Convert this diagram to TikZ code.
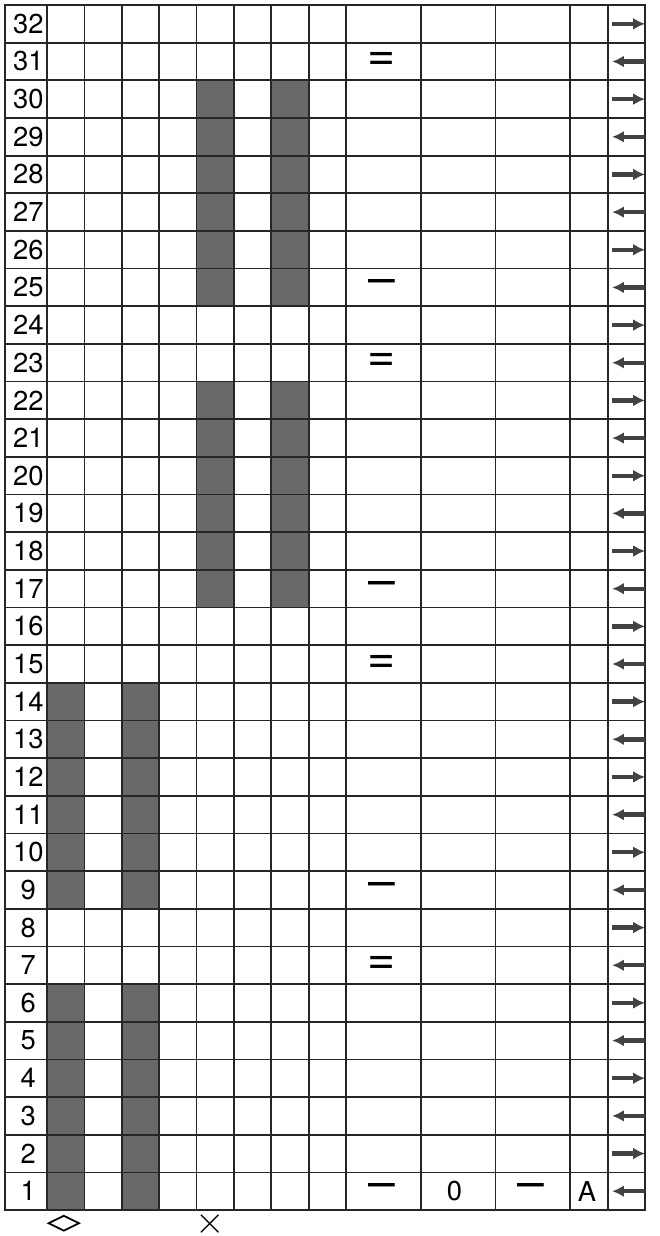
\documentclass[tikz,border=0pt]{standalone}
\usepackage{fontspec}
\setmainfont{TeX Gyre Heros}
\usetikzlibrary{arrows.meta, shapes.geometric}

\definecolor{bargray}{HTML}{696969}
\definecolor{arrowgray}{HTML}{424242}

\begin{document}
\begin{tikzpicture}[
    x=0.6cm, y=-0.6045cm,
    gridline/.style={line width=0.8pt, black!85},
    shaded/.style={fill=bargray},
    rownum/.style={font=\fontsize{12.5}{14}\selectfont, inner sep=0pt},
    symbol/.style={font=\fontsize{22}{24}\selectfont, inner sep=0pt},
    rowarrow/.style={-{Latex[length=1.9mm, width=1.9mm]}, line width=2pt, arrowgray}
]
\useasboundingbox (-1.2575,-0.1328) rectangle (16.375,32.69);

\foreach \c in {0,2} {
    \fill[shaded] (\c,26) rectangle ++(1,6);
    \fill[shaded] (\c,18) rectangle ++(1,6);
}
\foreach \c in {4,6} {
    \fill[shaded] (\c,10) rectangle ++(1,6);
    \fill[shaded] (\c,2) rectangle ++(1,6);
}

\foreach \y in {0,...,32}
    \draw[gridline] (-1.124,\y) -- (16,\y);
\foreach \x in {0,...,8,10,12,14,15,16}
    \draw[gridline] (\x,0) -- (\x,32);
\draw[gridline] (-1.124,0) rectangle (16,32);

\foreach \r in {1,...,32} {
    \pgfmathsetmacro{\yc}{32.5-\r}
    \node[rownum] (n\r) at (-0.5,\yc) {\r};
    \coordinate (al\r) at (15.12,\yc);
    \coordinate (ar\r) at (16,\yc);
    \ifodd\r
        \draw[rowarrow] (ar\r) -- (al\r);
    \else
        \draw[rowarrow] (al\r) -- (ar\r);
    \fi
}

\foreach \r in {31,23,15,7}
    \node[symbol] (eq\r) at (8.95,{32.5-\r}) {=};
\foreach \r in {25,17,9,1}
    \node[symbol] (dash\r) at (8.95,{32.5-\r}) {–};

\node[rownum] (zero) at (10.9,31.5) {0};
\node[symbol] (dashb) at (12.95,31.5) {–};
\node[rownum] (letA) at (14.45,31.5) {A};

\node[diamond, draw, aspect=2, inner sep=0pt, minimum width=0.5cm,
    minimum height=0.25cm, line width=0.8pt] (diam) at (0.45,32.35) {};
\node[font=\fontsize{16}{18}\selectfont, inner sep=0pt] (cross) at (4.38,32.36) {$\times$};
\end{tikzpicture}
\end{document}
